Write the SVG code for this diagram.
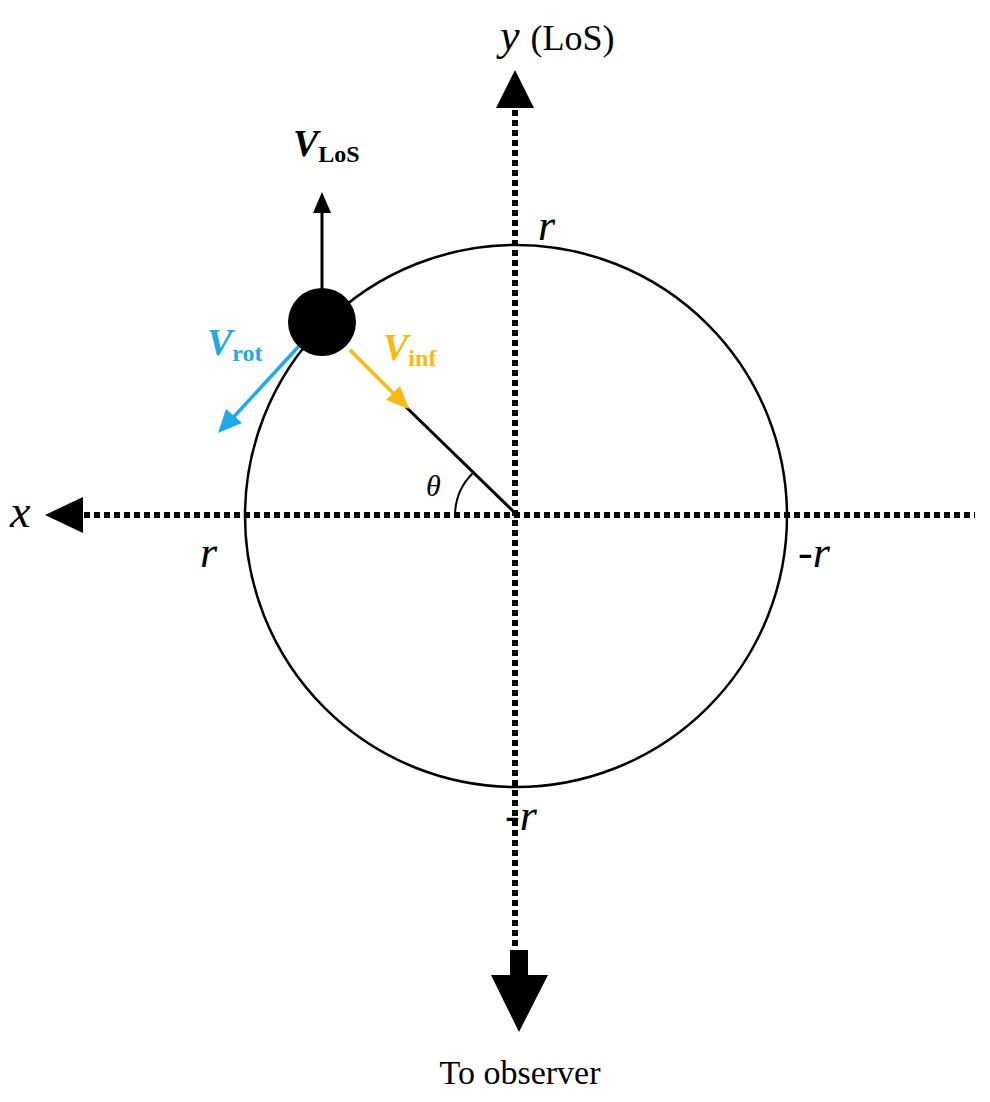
<svg xmlns="http://www.w3.org/2000/svg" width="990" height="1102" viewBox="0 0 990 1102">
<style>
.ax{stroke:#000;stroke-width:6;stroke-dasharray:6 4;fill:none}
.t{font-family:"Liberation Serif",serif;fill:#000}
.i{font-style:italic}
.b{font-weight:bold}
</style>
<rect width="990" height="1102" fill="#fff"/>
<g id="axes">
<line class="ax" x1="515" y1="110" x2="515" y2="948"/>
<line class="ax" x1="84" y1="515" x2="975" y2="515"/>
<path d="M515,70L534,108L496,108z" fill="#000"/>
<path d="M45,515L83,497L83,533z" fill="#000"/>
<path d="M510,950H528V975H548L519,1032L491,975H510z" fill="#000"/>
</g>
<g id="orbit"><circle cx="516" cy="516" r="271" fill="none" stroke="#000" stroke-width="2.5"/></g>
<g id="connectors">
<line x1="515" y1="513" x2="406" y2="407" stroke="#000" stroke-width="3"/>
<path d="M455,515A60,60 0 0 1 473,473" fill="none" stroke="#000" stroke-width="2"/>
<line x1="322" y1="290" x2="322" y2="210" stroke="#000" stroke-width="3"/>
<path d="M322,192L313,213L331,213z" fill="#000"/>
<line x1="350" y1="350" x2="398" y2="398" stroke="#FBB915" stroke-width="3.5"/>
<path d="M409,409L386,400L400,386z" fill="#FBB915"/>
<line x1="300" y1="345" x2="230" y2="421" stroke="#1EAAE4" stroke-width="3.5"/>
<path d="M218,433L226,409L242,423z" fill="#1EAAE4"/>
</g>
<g id="ball"><circle cx="322" cy="322" r="34" fill="#000"/></g>
<g id="labels">
<text class="t" x="500" y="50" font-size="44"><tspan class="i">y</tspan> <tspan font-size="36">(LoS)</tspan></text>
<text class="t i" x="10" y="527" font-size="46">x</text>
<text class="t i" x="538" y="240" font-size="44">r</text>
<text class="t i" x="200" y="567" font-size="44">r</text>
<text class="t i" x="798" y="567" font-size="44">-r</text>
<text class="t i" x="505" y="830" font-size="44">-r</text>
<text class="t i" x="426" y="496" font-size="30">θ</text>
<text class="t i b" x="293" y="156" font-size="38">V<tspan class="b" font-style="normal" font-size="24" dy="6">LoS</tspan></text>
<text class="t i b" x="207" y="355" font-size="38" style="fill:#1EAAE4">V<tspan font-style="normal" font-size="24" dy="6">rot</tspan></text>
<text class="t i b" x="383" y="360" font-size="38" style="fill:#FBB915">V<tspan font-style="normal" font-size="24" dy="6">inf</tspan></text>
<text class="t" x="520" y="1084" font-size="34" text-anchor="middle">To observer</text>
</g>
</svg>
